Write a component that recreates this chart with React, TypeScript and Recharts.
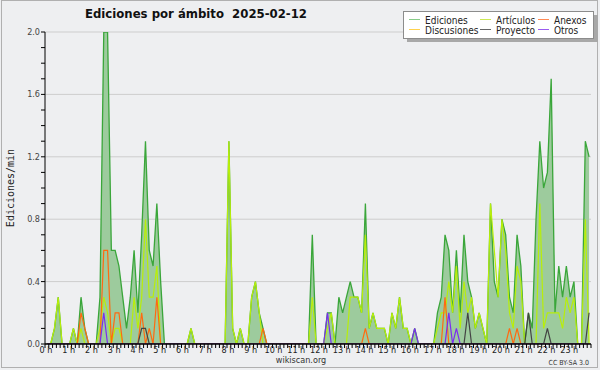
import React from "react";
import { ComposedChart, Area, Line, XAxis, YAxis, CartesianGrid, ReferenceLine } from "recharts";

// 10-minute slots of the day (144 slots), value = edits per minute
const ediciones = [
  0, 0, 0.1, 0.3, 0, 0, 0, 0.1, 0, 0.3, 0.1, 0,
  0, 0, 0.3, 2.0, 2.0, 0.6, 0.6, 0.5, 0.3, 0.1, 0.3, 0.6,
  0.2, 0.7, 1.3, 0.6, 0.5, 0.9, 0.4, 0, 0, 0, 0, 0,
  0, 0, 0.1, 0, 0, 0, 0, 0, 0, 0, 0, 0,
  1.3, 0.1, 0, 0.1, 0, 0, 0.3, 0.4, 0.2, 0.1, 0, 0,
  0, 0, 0, 0, 0, 0, 0, 0, 0, 0, 0.7, 0,
  0, 0, 0.2, 0.2, 0, 0.3, 0.2, 0.3, 0.4, 0.3, 0.3, 0.2,
  0.9, 0.1, 0.2, 0.1, 0.1, 0.1, 0, 0.2, 0.1, 0.3, 0.1, 0.1,
  0, 0.1, 0, 0, 0, 0, 0, 0.2, 0.3, 0.7, 0.6, 0.2,
  0.6, 0.2, 0.7, 0.4, 0.3, 0.1, 0.2, 0.1, 0, 0.9, 0.4, 0.3,
  0.8, 0.7, 0.3, 0.2, 0.7, 0.5, 0, 0.2, 0.1, 0.8, 1.3, 1.0,
  1.1, 1.7, 0.2, 0.5, 0.3, 0.5, 0.3, 0.4, 0, 0, 1.3, 1.2,
];

const articulos = [
  0, 0, 0.1, 0.3, 0, 0, 0, 0.1, 0, 0.1, 0, 0,
  0, 0, 0.1, 0.3, 0.2, 0, 0.1, 0.1, 0, 0, 0, 0.3,
  0.1, 0.3, 0.8, 0.3, 0.3, 0.5, 0, 0, 0, 0, 0, 0,
  0, 0, 0.1, 0, 0, 0, 0, 0, 0, 0, 0, 0,
  1.3, 0.1, 0, 0.1, 0, 0, 0.3, 0.4, 0.2, 0, 0, 0,
  0, 0, 0, 0, 0, 0, 0, 0, 0, 0, 0.3, 0,
  0, 0, 0.1, 0.2, 0, 0, 0, 0, 0.3, 0.3, 0.3, 0.2,
  0.7, 0.1, 0.2, 0.1, 0.1, 0.1, 0, 0.2, 0.1, 0.3, 0.1, 0.1,
  0, 0, 0, 0, 0, 0, 0, 0.1, 0.2, 0.2, 0.4, 0.2,
  0.5, 0.1, 0.4, 0.2, 0.3, 0.1, 0.2, 0.1, 0, 0.9, 0.6, 0.3,
  0.8, 0.6, 0.2, 0.1, 0.5, 0.4, 0, 0, 0, 0, 0.9, 0.1,
  0.2, 0.2, 0.2, 0.2, 0.1, 0.3, 0.2, 0.3, 0, 0, 0.8, 0,
];

const anexos = [
  0, 0, 0, 0, 0, 0, 0, 0, 0, 0.2, 0.1, 0,
  0, 0, 0, 0.6, 0.6, 0, 0.2, 0.2, 0, 0, 0, 0,
  0, 0.2, 0, 0.1, 0, 0.3, 0, 0, 0, 0, 0, 0,
  0, 0, 0, 0, 0, 0, 0, 0, 0, 0, 0, 0,
  0, 0, 0, 0, 0, 0, 0, 0, 0, 0.1, 0, 0,
  0, 0, 0, 0, 0, 0, 0, 0, 0, 0, 0, 0,
  0, 0, 0, 0, 0, 0, 0, 0, 0, 0, 0, 0,
  0.1, 0, 0, 0, 0, 0, 0, 0, 0, 0, 0, 0,
  0, 0, 0, 0, 0, 0, 0, 0, 0, 0.3, 0, 0,
  0, 0, 0, 0, 0, 0, 0, 0, 0, 0, 0, 0,
  0, 0, 0.1, 0, 0.1, 0, 0, 0, 0, 0, 0, 0,
  0, 0, 0, 0, 0, 0, 0, 0, 0, 0, 0, 0,
];

const discusiones = [
  0, 0, 0, 0, 0, 0, 0, 0, 0, 0, 0, 0,
  0, 0, 0, 0, 0, 0, 0, 0, 0, 0, 0, 0,
  0, 0, 0, 0, 0, 0, 0, 0, 0, 0, 0, 0,
  0, 0, 0, 0, 0, 0, 0, 0, 0, 0, 0, 0,
  0, 0, 0, 0, 0, 0, 0, 0, 0, 0, 0, 0,
  0, 0, 0, 0, 0, 0, 0, 0, 0, 0, 0, 0,
  0, 0, 0, 0, 0, 0, 0, 0, 0, 0, 0, 0,
  0, 0, 0, 0, 0, 0, 0, 0, 0, 0, 0, 0,
  0, 0, 0, 0, 0, 0, 0, 0, 0, 0, 0, 0,
  0, 0, 0, 0, 0, 0, 0, 0, 0, 0, 0, 0,
  0, 0, 0, 0, 0, 0, 0, 0, 0, 0, 0, 0,
  0, 0, 0, 0, 0, 0, 0, 0, 0, 0, 0, 0,
];

const proyecto = [
  0, 0, 0, 0, 0, 0, 0, 0, 0, 0, 0, 0,
  0, 0, 0, 0, 0, 0, 0, 0, 0, 0, 0, 0,
  0, 0.1, 0.1, 0, 0, 0, 0, 0, 0, 0, 0, 0,
  0, 0, 0, 0, 0, 0, 0, 0, 0, 0, 0, 0,
  0, 0, 0, 0, 0, 0, 0, 0, 0, 0, 0, 0,
  0, 0, 0, 0, 0, 0, 0, 0, 0, 0, 0, 0,
  0, 0, 0, 0, 0, 0, 0, 0, 0, 0, 0, 0,
  0, 0, 0, 0, 0, 0, 0, 0, 0, 0, 0, 0,
  0, 0, 0, 0, 0, 0, 0, 0, 0, 0, 0, 0,
  0, 0, 0, 0.2, 0, 0, 0, 0, 0, 0, 0, 0,
  0, 0, 0, 0, 0, 0, 0, 0.2, 0, 0, 0, 0,
  0.1, 0, 0, 0, 0, 0, 0, 0, 0, 0, 0, 0.2,
];

const otros = [
  0, 0, 0, 0, 0, 0, 0, 0, 0, 0, 0, 0,
  0, 0, 0, 0.2, 0, 0, 0, 0, 0, 0, 0, 0,
  0, 0, 0, 0, 0, 0, 0, 0, 0, 0, 0, 0,
  0, 0, 0, 0, 0, 0, 0, 0, 0, 0, 0, 0,
  0, 0, 0, 0, 0, 0, 0, 0, 0, 0, 0, 0,
  0, 0, 0, 0, 0, 0, 0, 0, 0, 0, 0, 0,
  0, 0, 0.2, 0, 0, 0, 0, 0, 0, 0, 0, 0,
  0, 0, 0, 0, 0, 0, 0, 0, 0, 0, 0, 0,
  0, 0.1, 0, 0, 0, 0, 0, 0, 0, 0, 0.2, 0,
  0.1, 0, 0, 0, 0, 0, 0, 0, 0, 0, 0, 0,
  0, 0, 0, 0, 0, 0, 0, 0, 0, 0, 0, 0,
  0, 0, 0, 0, 0, 0, 0, 0, 0, 0, 0, 0,
];

const yTicks = [0, 0.1, 0.2, 0.3, 0.4, 0.5, 0.6, 0.7, 0.8, 0.9, 1.0, 1.1, 1.2, 1.3, 1.4, 1.5, 1.6, 1.7, 1.8, 1.9, 2.0];
const yLabelled = [0, 0.4, 0.8, 1.2, 1.6, 2.0];
const gridValues = [0.4, 0.8, 1.2, 1.6, 2.0];
const hours = [0, 1, 2, 3, 4, 5, 6, 7, 8, 9, 10, 11, 12, 13, 14, 15, 16, 17, 18, 19, 20, 21, 22, 23];

const title = "Ediciones por ámbito  2025-02-12";
const yTitle = "Ediciones/min";

const legendItems = [
  { name: "Ediciones", color: "#88cc88", col: 0, row: 0 },
  { name: "Artículos", color: "#cce855", col: 1, row: 0 },
  { name: "Anexos", color: "#ff8a55", col: 2, row: 0 },
  { name: "Discusiones", color: "#ffd24d", col: 0, row: 1 },
  { name: "Proyecto", color: "#666666", col: 1, row: 1 },
  { name: "Otros", color: "#9a5cf0", col: 2, row: 1 },
];

const xTicks = Array.from({ length: 145 }, (_, k) => k / 6);

const data = ediciones.map((v, i) => ({
  t: (i + 0.5) / 6,
  ediciones: v,
  articulos: articulos[i],
  anexos: anexos[i],
  discusiones: discusiones[i],
  proyecto: proyecto[i],
  otros: otros[i],
}));

const FONT = "'DejaVu Sans Condensed', 'DejaVu Sans', sans-serif";

const XTick = (props: any) => {
  const { x, payload } = props;
  const k = Math.round(payload.value * 6);
  if (k % 6 !== 0) return null;
  const h = k / 6;
  if (!hours.includes(h)) return null;
  return (
    <text x={x + 1} y={353} textAnchor="middle" fontFamily={FONT} fontSize={9} fill="#222">
      {h} h
    </text>
  );
};

const YTick = (props: any) => {
  const { y, payload } = props;
  const v = payload.value;
  const show = yLabelled.some((l) => Math.abs(l - v) < 1e-6);
  if (!show) return null;
  return (
    <text x={40} y={y + 3} textAnchor="end" fontFamily={FONT} fontSize={9} fill="#444">
      {v.toFixed(1)}
    </text>
  );
};

export default function App() {
  const colX = [409, 480, 538];
  const rowY = [20, 30];
  return (
    <div style={{ position: "relative", width: 600, height: 370, background: "#eeeff1", overflow: "hidden" }}>
      <style>{"body{margin:0}"}</style>
      <ComposedChart
        width={600}
        height={370}
        data={data}
        margin={{ top: 32, right: 9, bottom: 0, left: 0 }}
      >
        <CartesianGrid horizontal={true} vertical={false} horizontalValues={gridValues} stroke="#cdcdcd" />
        <XAxis
          dataKey="t"
          type="number"
          domain={[0, 24]}
          ticks={xTicks}
          interval={0}
          tickSize={4}
          height={26}
          stroke="#000"
          tick={<XTick />}
          allowDecimals={true}
        />
        <YAxis
          type="number"
          domain={[0, 2]}
          ticks={yTicks}
          interval={0}
          tickSize={4}
          width={45}
          stroke="#000"
          tick={<YTick />}
          allowDataOverflow={true}
        />
        <Area
          type="linear"
          dataKey="ediciones"
          stroke="#3aa63a"
          strokeWidth={1.3}
          fill="#9dcb9d"
          fillOpacity={1}
          dot={false}
          activeDot={false}
          isAnimationActive={false}
        />
        <Line type="linear" dataKey="discusiones" stroke="#ffcc33" strokeWidth={1.2} dot={false} activeDot={false} isAnimationActive={false} />
        <Line type="linear" dataKey="articulos" stroke="#b8ee0a" strokeWidth={1.2} dot={false} activeDot={false} isAnimationActive={false} />
        <Line type="linear" dataKey="anexos" stroke="#ff6a10" strokeWidth={1.2} dot={false} activeDot={false} isAnimationActive={false} />
        <Line type="linear" dataKey="proyecto" stroke="#444444" strokeWidth={1.2} dot={false} activeDot={false} isAnimationActive={false} />
        <Line type="linear" dataKey="otros" stroke="#7b2cf0" strokeWidth={1.2} dot={false} activeDot={false} isAnimationActive={false} />
        <ReferenceLine y={0} stroke="#000" strokeWidth={1} />
      </ComposedChart>
      <svg width={600} height={370} style={{ position: "absolute", left: 0, top: 0, pointerEvents: "none" }}>
        <rect x={1.5} y={0.5} width={596} height={367} fill="none" stroke="#b0b0b0" />
        <text x={85} y={18} fontFamily={FONT} fontWeight="bold" fontSize={13} fill="#111" style={{ whiteSpace: "pre" }}>
          {title}
        </text>
        <text
          x={0}
          y={0}
          transform="translate(14,188) rotate(-90)"
          textAnchor="middle"
          fontFamily="'DejaVu Sans Mono', monospace"
          fontSize={10}
          fill="#222"
        >
          {yTitle}
        </text>
        <rect x={407} y={15} width={191} height={27} fill="#a8a8a8" />
        <rect x={403.5} y={11.5} width={190} height={27} fill="#ffffff" stroke="#8c8c8c" />
        {legendItems.map((it) => (
          <g key={it.name}>
            <line x1={colX[it.col]} x2={colX[it.col] + 11} y1={rowY[it.row] - 0.5} y2={rowY[it.row] - 0.5} stroke={it.color} strokeWidth={1} />
            <text x={colX[it.col] + 16} y={rowY[it.row] + 3.5} fontFamily={FONT} fontSize={10} fill="#222">
              {it.name}
            </text>
          </g>
        ))}
        <text x={301} y={363} textAnchor="middle" fontFamily={FONT} fontSize={9} fill="#333">
          wikiscan.org
        </text>
        <text x={589} y={365} textAnchor="end" fontFamily={FONT} fontSize={7} fill="#333">
          CC BY-SA 3.0
        </text>
      </svg>
    </div>
  );
}
